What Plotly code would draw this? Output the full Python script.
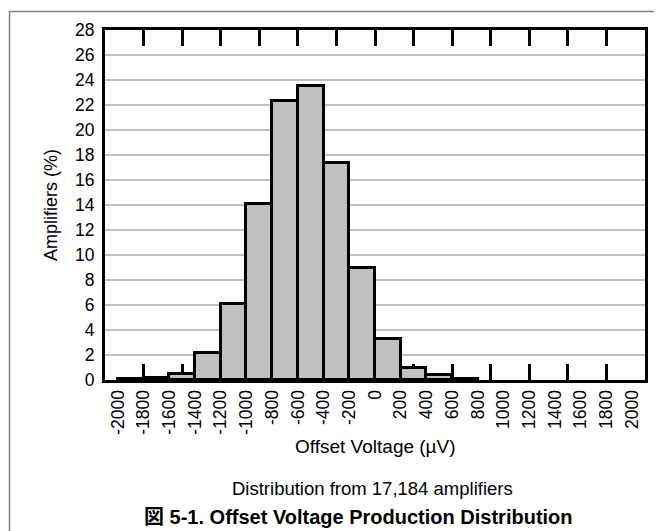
import plotly.graph_objects as go

# ---- data ----
bin_left_uv = [-2000, -1800, -1600, -1400, -1200, -1000, -800, -600, -400, -200, 0, 200, 400, 600]
amplifiers_pct = [0.05, 0.2, 0.5, 2.15, 6.05, 14.1, 22.3, 23.5, 17.35, 8.95, 3.25, 1.0, 0.38, 0.12]
bin_width_uv = 200
x_tick_values = list(range(-2000, 2001, 200))
x_tick_labels = [str(v) for v in x_tick_values]
x_mark_values = list(range(-1800, 1801, 300))
y_tick_values = list(range(0, 29, 2))

bin_centers_uv = [b + bin_width_uv / 2 for b in bin_left_uv]

FONT = "Liberation Sans, Arial, Noto Sans CJK JP, sans-serif"

fig = go.Figure()
fig.add_trace(go.Bar(
    x=bin_centers_uv, y=amplifiers_pct, width=bin_width_uv,
    marker=dict(color="#c0c0c0", line=dict(color="black", width=3)),
    showlegend=False, hoverinfo="skip",
))

W, H = 662, 531
L, R, T, B = 97, 25, 20, 159
pw, ph = W - L - R, H - T - B

def px(xp):
    return (xp - L) / pw

def py(yp):
    return (H - B - yp) / ph

fig.update_layout(
    width=W, height=H,
    margin=dict(l=L, r=R, t=T, b=B),
    paper_bgcolor="white", plot_bgcolor="white",
    font=dict(family=FONT, size=17, color="black"),
    bargap=0,
    xaxis=dict(
        range=[-2100, 2100],
        tickmode="array", tickvals=x_tick_values, ticktext=x_tick_labels,
        tickangle=-90, ticks="", showgrid=False, zeroline=False,
        showline=True, linecolor="black", linewidth=3, mirror="ticks",
        minor=dict(tickmode="array", tickvals=x_mark_values, ticks="inside",
                   ticklen=16, tickwidth=3, tickcolor="black", showgrid=False),
        layer="below traces",
        tickfont=dict(size=17.5),
    ),
    yaxis=dict(
        range=[0, 28], tickmode="array", tickvals=y_tick_values,
        showgrid=True, gridcolor="#c0c0c0", gridwidth=2, zeroline=False,
        showline=True, linecolor="black", linewidth=3, mirror=True,
        ticks="", tickfont=dict(size=17.5), layer="below traces",
        ticklabelstandoff=4,
    ),
    annotations=[
        dict(text="Amplifiers (%)", textangle=-90, x=px(43), y=0.5,
             xanchor="center", yanchor="middle",
             xref="paper", yref="paper", showarrow=False, font=dict(size=18)),
        dict(text="Offset Voltage (µV)", x=px(367), y=py(439),
             xanchor="center", yanchor="middle",
             xref="paper", yref="paper", showarrow=False, font=dict(size=19)),
        dict(text="Distribution from 17,184 amplifiers", x=px(364), y=py(481),
             xanchor="center", yanchor="middle",
             xref="paper", yref="paper", showarrow=False, font=dict(size=18.5)),
        dict(text="<b>図 5-1. Offset Voltage Production Distribution</b>", x=px(350), y=py(510),
             xanchor="center", yanchor="middle",
             xref="paper", yref="paper", showarrow=False, font=dict(size=20)),
    ],
    shapes=[
        dict(type="rect", xref="paper", yref="paper",
             x0=px(1.5), x1=px(660), y0=py(529), y1=py(1.5),
             line=dict(color="#808080", width=1.5), layer="below"),
    ],
)

fig.write_html("out.html")
